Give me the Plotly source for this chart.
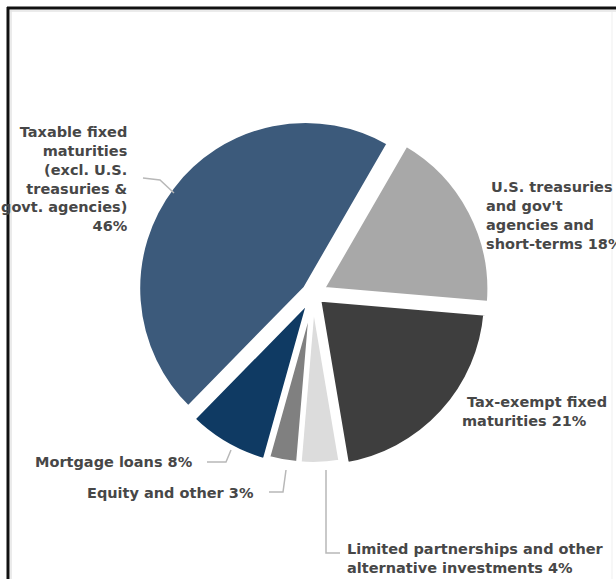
import plotly.graph_objects as go

W, H = 616, 579

categories = [
    "U.S. treasuries and gov't agencies and short-terms",
    "Tax-exempt fixed maturities",
    "Limited partnerships and other alternative investments",
    "Equity and other",
    "Mortgage loans",
    "Taxable fixed maturities (excl. U.S. treasuries & govt. agencies)",
]
values = [18, 21, 4, 3, 8, 46]
colors = ["#a8a8a8", "#3e3e3e", "#dcdcdc", "#808080", "#0f3a63", "#3c5a7b"]
pulls = [0.06, 0.045, 0.015, 0.015, 0.035, 0.055]

label_texts = [
    "\u00a0U.S. treasuries<br>and gov't<br>agencies and<br>short-terms 18%",
    "\u00a0Tax-exempt fixed<br>maturities 21%",
    "Limited partnerships and other<br>alternative investments 4%",
    "Equity and other 3%",
    "Mortgage loans 8%",
    "Taxable fixed<br>maturities<br>(excl. U.S.<br>treasuries &<br>govt. agencies)<br>46%",
]


def px(x):
    return x / W


def py(y):
    return 1 - y / H


cx, cy, R = 313, 294, 178
fig = go.Figure()
fig.add_trace(go.Pie(
    labels=categories,
    values=values,
    sort=False,
    direction="clockwise",
    rotation=30,
    pull=pulls,
    marker=dict(colors=colors, line=dict(color="white", width=5)),
    textinfo="none",
    hoverinfo="label+percent",
    showlegend=False,
    domain=dict(x=[px(cx - R), px(cx + R)], y=[py(cy + R), py(cy - R)]),
))

font = dict(family="DejaVu Sans, Verdana, sans-serif", size=14.5, color="#474747", weight="bold")

# label placements (pixel anchors)
placements = [
    dict(x=484, y=177, xanchor="left", yanchor="top", align="left"),
    dict(x=460, y=392, xanchor="left", yanchor="top", align="left"),
    dict(x=345, y=539, xanchor="left", yanchor="top", align="left"),
    dict(x=256, y=493, xanchor="right", yanchor="middle", align="right"),
    dict(x=195, y=462, xanchor="right", yanchor="middle", align="right"),
    dict(x=130, y=122, xanchor="right", yanchor="top", align="right"),
]
for t, p in zip(label_texts, placements):
    fig.add_annotation(
        text=t, x=px(p["x"]), y=py(p["y"]), xref="paper", yref="paper",
        xanchor=p["xanchor"], yanchor=p["yanchor"], align=p["align"],
        showarrow=False, font=font,
    )

# leader lines
leaders = [
    [(143, 178), (160, 180), (174, 193)],
    [(207, 462), (226, 462), (231, 450)],
    [(269, 492), (283, 492), (286, 470)],
    [(326, 470), (326, 553), (340, 553)],
]
lc = "#b8b8b8"
for pts in leaders:
    path = "M " + " L ".join(f"{px(x)},{py(y)}" for x, y in pts)
    fig.add_shape(type="path", path=path, xref="paper", yref="paper",
                  line=dict(color=lc, width=1.5))

# frame border
fig.add_shape(type="line", xref="paper", yref="paper", x0=px(8), x1=px(8), y0=py(7), y1=py(H),
              line=dict(color="#111111", width=3))
fig.add_shape(type="line", xref="paper", yref="paper", x0=px(7), x1=px(W), y0=py(8), y1=py(8),
              line=dict(color="#111111", width=3))
fig.add_shape(type="line", xref="paper", yref="paper", x0=px(11), x1=px(11), y0=py(10), y1=py(H),
              line=dict(color="#e4e4e4", width=1.5))
fig.add_shape(type="line", xref="paper", yref="paper", x0=px(10), x1=px(W), y0=py(11), y1=py(11),
              line=dict(color="#e4e4e4", width=1.5))
fig.add_shape(type="line", xref="paper", yref="paper", x0=px(612), x1=px(612), y0=py(12), y1=py(H),
              line=dict(color="#efefef", width=1))

fig.update_layout(
    width=W, height=H,
    margin=dict(l=0, r=0, t=0, b=0),
    paper_bgcolor="white", plot_bgcolor="white",
)

fig.write_html(
    "out.html",
    config={"displayModeBar": False},
    post_script="document.body.style.margin='0';document.body.style.overflow='hidden';",
)
